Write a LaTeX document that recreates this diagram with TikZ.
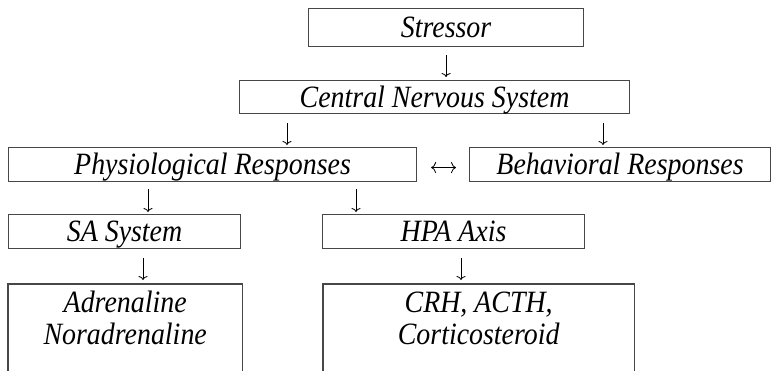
\documentclass[tikz,border=0pt]{standalone}
\usepackage{fontspec}
\setmainfont{Liberation Serif}[FakeStretch=0.9]
\usepackage{tikz}
\usetikzlibrary{arrows.meta}
\tikzset{
    common/.style={anchor=north west, rectangle, inner sep=0pt, font=\fontsize{31}{32}\selectfont\itshape},
    frame/.style={draw=black!72, line width=1.1pt},
    box/.style={common, frame, text height=20.5pt, text depth=0pt},
    openbox/.style={common, align=center, minimum height=68pt},
    flow/.style={-{To[length=4pt,width=9pt]}, line width=0.8pt},
    swap/.style={{To[length=5pt,width=11pt]}-{To[length=5pt,width=11pt]}, line width=0.8pt}
}

\begin{document}
\begin{tikzpicture}[x=1pt, y=-1pt]
    \useasboundingbox (0,0) rectangle (778,370);

    % boxes
    \node[box, minimum width=275pt, minimum height=38pt] (stressor) at (308,8) {Stressor};
    \node[box, minimum width=390pt, minimum height=33pt] (cns) at (239,80) {Central Nervous System};
    \node[box, minimum width=408pt, minimum height=34pt] (phys) at (8,147) {Physiological Responses};
    \node[box, minimum width=301pt, minimum height=34pt] (behav) at (469,147) {Behavioral Responses};
    \node[box, minimum width=232pt, minimum height=34pt] (sa) at (8,214) {SA System};
    \node[box, minimum width=262pt, minimum height=34pt] (hpa) at (322,214) {HPA Axis};
    \node[openbox, minimum width=234pt] (adr) at (8,284) {Adrenaline\\Noradrenaline};
    \node[openbox, minimum width=311pt] (crh) at (323,284) {CRH, ACTH,\\Corticosteroid};

    % open bottom frames
    \draw[frame] ([yshift=-20pt]adr.south west) |- (adr.north) -| ([yshift=-20pt]adr.south east);
    \draw[frame] ([yshift=-20pt]crh.south west) |- (crh.north) -| ([yshift=-20pt]crh.south east);

    % arrow columns
    \coordinate (c1) at (287,0);
    \coordinate (c2) at (603,0);
    \coordinate (c3) at (148,0);
    \coordinate (c4) at (356,0);
    \coordinate (c5) at (143,0);
    \coordinate (c6) at (461,0);

    % arrows
    \draw[flow, shorten <=8pt, shorten >=3pt] (stressor.south) -- (stressor.south |- cns.north);
    \draw[flow, shorten <=9pt, shorten >=2pt] (c1 |- cns.south) -- (c1 |- phys.north);
    \draw[flow, shorten <=9pt, shorten >=2pt] (c2 |- cns.south) -- (c2 |- behav.north);
    \draw[flow, shorten <=7pt, shorten >=2pt] (c3 |- phys.south) -- (c3 |- sa.north);
    \draw[flow, shorten <=7pt, shorten >=2pt] (c4 |- phys.south) -- (c4 |- hpa.north);
    \draw[flow, shorten <=9pt, shorten >=4pt] (c5 |- sa.south) -- (c5 |- adr.north);
    \draw[flow, shorten <=9pt, shorten >=4pt] (c6 |- hpa.south) -- (c6 |- crh.north);
    \draw[swap, shorten <=14pt, shorten >=13pt] ([yshift=-3pt]phys.east) -- ([yshift=-3pt]behav.west);
\end{tikzpicture}
\end{document}
